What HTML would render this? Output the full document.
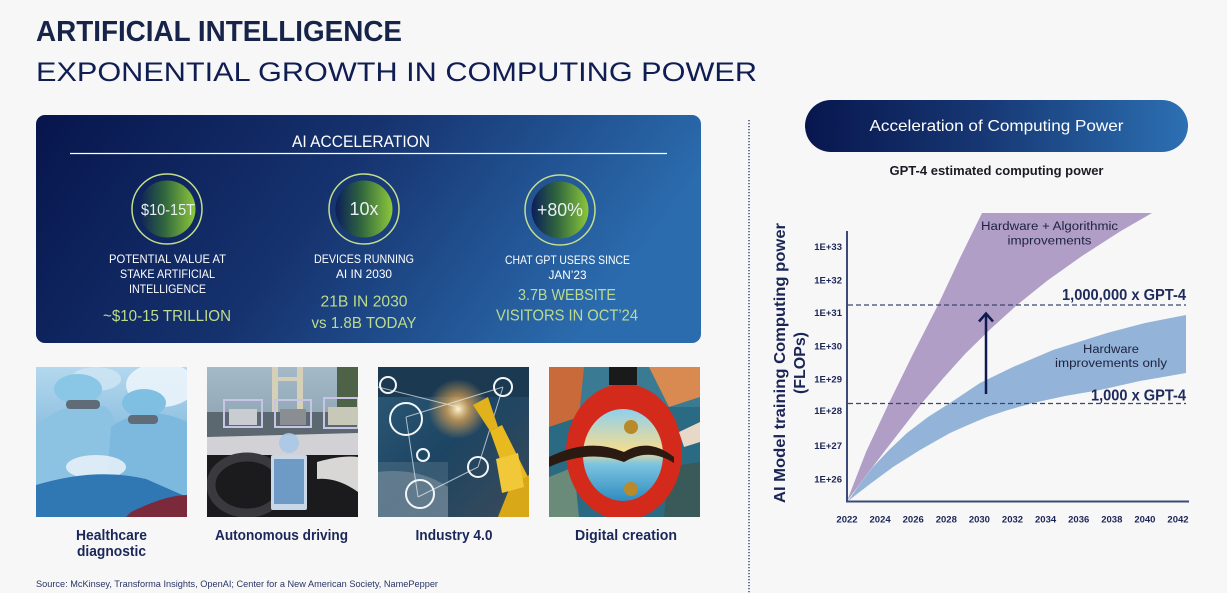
<!DOCTYPE html>
<html><head><meta charset="utf-8"><style>
html,body{margin:0;padding:0;background:#f7f7f7;overflow:hidden}
svg{display:block}
text{font-family:"Liberation Sans",sans-serif}
</style></head><body>
<svg width="1227" height="593" viewBox="0 0 1227 593" xmlns="http://www.w3.org/2000/svg">
<defs>
<linearGradient id="boxg" x1="0" y1="0" x2="1" y2="0.25">
<stop offset="0" stop-color="#07154c"/><stop offset="0.5" stop-color="#16336f"/><stop offset="1" stop-color="#2b6cae"/>
</linearGradient>
<linearGradient id="pillg" x1="0" y1="0" x2="1" y2="0">
<stop offset="0" stop-color="#08164e"/><stop offset="0.45" stop-color="#163672"/><stop offset="1" stop-color="#2c70b3"/>
</linearGradient>
<linearGradient id="cg" x1="0" y1="0" x2="1" y2="0">
<stop offset="0" stop-color="#0c1e5a"/><stop offset="0.45" stop-color="#30663e"/><stop offset="1" stop-color="#8cc83a"/>
</linearGradient>
<linearGradient id="hc" x1="0" y1="0" x2="0" y2="1">
<stop offset="0" stop-color="#b4d8ee"/><stop offset="1" stop-color="#5b9dcd"/>
</linearGradient>
<linearGradient id="au" x1="0" y1="0" x2="0" y2="1">
<stop offset="0" stop-color="#a4bac8"/><stop offset="1" stop-color="#6f8390"/>
</linearGradient>
<linearGradient id="in" x1="0" y1="0" x2="1" y2="1">
<stop offset="0" stop-color="#2c5a78"/><stop offset="0.5" stop-color="#1d4563"/><stop offset="1" stop-color="#3b4a58"/>
</linearGradient>
<radialGradient id="glow" cx="0.5" cy="0.5" r="0.5">
<stop offset="0" stop-color="#fff4d0"/><stop offset="0.4" stop-color="#e8a850" stop-opacity="0.7"/><stop offset="1" stop-color="#e8a850" stop-opacity="0"/>
</radialGradient>
<linearGradient id="dg" x1="0" y1="0" x2="0" y2="1">
<stop offset="0" stop-color="#8fd0ec"/><stop offset="0.45" stop-color="#f4dc92"/><stop offset="0.6" stop-color="#7cc4e0"/><stop offset="1" stop-color="#2f8cc0"/>
</linearGradient>
</defs>

<!-- Title -->
<text x="36" y="41" font-size="29" font-weight="bold" fill="#172449" textLength="366" lengthAdjust="spacingAndGlyphs">ARTIFICIAL INTELLIGENCE</text>
<text x="36" y="81" font-size="27" fill="#0f1d52" textLength="721" lengthAdjust="spacingAndGlyphs">EXPONENTIAL GROWTH IN COMPUTING POWER</text>

<!-- AI Acceleration box -->
<rect x="36" y="115" width="665" height="228" rx="9" fill="url(#boxg)"/>
<text x="361" y="147" font-size="17" fill="#ffffff" text-anchor="middle" textLength="138" lengthAdjust="spacingAndGlyphs">AI ACCELERATION</text>
<line x1="70" y1="153.5" x2="667" y2="153.5" stroke="#ffffff" stroke-width="1.2"/>

<circle cx="167" cy="209" r="35" fill="none" stroke="#c4df8a" stroke-width="1.5"/>
<circle cx="167" cy="209" r="28.5" fill="url(#cg)"/>
<text x="168" y="215" font-size="16" fill="#e8eef2" text-anchor="middle" textLength="54" lengthAdjust="spacingAndGlyphs">$10-15T</text>

<circle cx="364" cy="209" r="35" fill="none" stroke="#c4df8a" stroke-width="1.5"/>
<circle cx="364" cy="209" r="28.5" fill="url(#cg)"/>
<text x="364" y="215" font-size="18" fill="#e8eef2" text-anchor="middle">10x</text>

<circle cx="560" cy="210" r="35" fill="none" stroke="#c4df8a" stroke-width="1.5"/>
<circle cx="560" cy="210" r="28.5" fill="url(#cg)"/>
<text x="560" y="216" font-size="18" fill="#e8eef2" text-anchor="middle" textLength="46" lengthAdjust="spacingAndGlyphs">+80%</text>

<g fill="#ffffff" font-size="12" text-anchor="middle">
<text x="167.5" y="263" textLength="117" lengthAdjust="spacingAndGlyphs">POTENTIAL VALUE AT</text>
<text x="167.5" y="278" textLength="95" lengthAdjust="spacingAndGlyphs">STAKE ARTIFICIAL</text>
<text x="167.5" y="293" textLength="77" lengthAdjust="spacingAndGlyphs">INTELLIGENCE</text>
<text x="364" y="263" textLength="100" lengthAdjust="spacingAndGlyphs">DEVICES RUNNING</text>
<text x="364" y="278" textLength="56" lengthAdjust="spacingAndGlyphs">AI IN 2030</text>
<text x="567.5" y="264" textLength="125" lengthAdjust="spacingAndGlyphs">CHAT GPT USERS SINCE</text>
<text x="567.5" y="279" textLength="38" lengthAdjust="spacingAndGlyphs">JAN’23</text>
</g>
<g fill="#bddb8c" font-size="16" text-anchor="middle">
<text x="167" y="321" textLength="128" lengthAdjust="spacingAndGlyphs">~$10-15 TRILLION</text>
<text x="364" y="306.5" textLength="87" lengthAdjust="spacingAndGlyphs">21B IN 2030</text>
<text x="364" y="328" textLength="105" lengthAdjust="spacingAndGlyphs">vs 1.8B TODAY</text>
<text x="567" y="300" textLength="98" lengthAdjust="spacingAndGlyphs">3.7B WEBSITE</text>
<text x="567" y="320.5" textLength="142" lengthAdjust="spacingAndGlyphs">VISITORS IN OCT’24</text>
</g>

<!-- Image 1: Healthcare -->
<svg x="36" y="367" width="151" height="150" viewBox="0 0 151 150">
<rect width="151" height="150" fill="url(#hc)"/>
<ellipse cx="125" cy="18" rx="35" ry="22" fill="#eef6fb" opacity="0.85"/>
<ellipse cx="60" cy="12" rx="25" ry="12" fill="#cfe6f4" opacity="0.8"/>
<path d="M0,60 Q30,30 70,40 Q90,60 85,120 L0,130 Z" fill="#8cc2e2"/>
<path d="M75,60 Q110,35 151,55 L151,130 L70,125 Z" fill="#7db9de"/>
<ellipse cx="42" cy="22" rx="24" ry="15" fill="#8ac6e6"/>
<ellipse cx="108" cy="36" rx="22" ry="14" fill="#7fbfe2"/>
<rect x="30" y="33" width="34" height="9" rx="4" fill="#5f6c78"/>
<rect x="92" y="48" width="30" height="9" rx="4" fill="#606d79"/>
<ellipse cx="60" cy="100" rx="30" ry="12" fill="#e4f0f7" opacity="0.9"/>
<path d="M0,118 Q60,100 110,112 L151,130 L151,150 L0,150 Z" fill="#2f78b4"/>
<path d="M95,145 Q130,128 151,128 L151,150 L90,150 Z" fill="#7a2a3a"/>
</svg>

<!-- Image 2: Autonomous driving -->
<svg x="207" y="367" width="151" height="150" viewBox="0 0 151 150">
<rect width="151" height="150" fill="url(#au)"/>
<rect x="65" y="0" width="6" height="55" fill="#d6d0b8"/>
<rect x="90" y="0" width="6" height="55" fill="#d6d0b8"/>
<rect x="66" y="10" width="30" height="4" fill="#d6d0b8"/>
<rect x="0" y="45" width="151" height="25" fill="#5b6870"/>
<rect x="130" y="0" width="21" height="40" fill="#4e6248"/>
<rect x="17" y="33" width="38" height="27" fill="none" stroke="#c8c4e6" stroke-width="2"/>
<rect x="68" y="33" width="36" height="27" fill="none" stroke="#c8c4e6" stroke-width="2"/>
<rect x="117" y="31" width="34" height="30" fill="none" stroke="#c8c4e6" stroke-width="2"/>
<rect x="22" y="42" width="28" height="16" fill="#c9ccd0"/>
<rect x="73" y="42" width="26" height="16" fill="#8a8e92"/>
<rect x="121" y="40" width="30" height="18" fill="#c8c8b8"/>
<path d="M0,70 L151,66 L151,90 L0,95 Z" fill="#d2d2d6"/>
<rect x="0" y="88" width="151" height="62" fill="#1b1b1e"/>
<path d="M110,95 Q135,88 151,90 L151,125 Q130,110 110,112 Z" fill="#d9d6d6"/>
<ellipse cx="40" cy="118" rx="36" ry="28" fill="none" stroke="#3a3a3e" stroke-width="9"/>
<rect x="64" y="88" width="36" height="55" rx="2" fill="#c8d8e8"/>
<rect x="67" y="92" width="30" height="45" fill="#6d9bc6"/>
<circle cx="82" cy="76" r="10" fill="#a8c8e8" opacity="0.9"/>
</svg>

<!-- Image 3: Industry 4.0 -->
<svg x="378" y="367" width="151" height="150" viewBox="0 0 151 150">
<rect width="151" height="150" fill="url(#in)"/>
<rect x="0" y="0" width="151" height="30" fill="#1b3a52"/>
<rect x="0" y="95" width="70" height="55" fill="#4a6a80" opacity="0.6"/>
<circle cx="80" cy="42" r="30" fill="url(#glow)"/>
<path d="M0,150 L0,105 Q40,100 70,120 L70,150 Z" fill="#8a9aa5" opacity="0.5"/>
<g fill="none" stroke="#e8eef2" stroke-width="1" opacity="0.7">
<line x1="28" y1="50" x2="125" y2="20"/><line x1="28" y1="50" x2="40" y2="130"/><line x1="40" y1="130" x2="100" y2="100"/><line x1="100" y1="100" x2="125" y2="20"/><line x1="0" y1="20" x2="80" y2="40"/>
</g>
<g fill="none" stroke="#f2f6f8" stroke-width="2">
<circle cx="28" cy="52" r="16"/><circle cx="42" cy="127" r="14"/><circle cx="100" cy="100" r="10"/><circle cx="125" cy="20" r="9"/><circle cx="10" cy="18" r="8"/><circle cx="45" cy="88" r="6"/>
</g>
<path d="M95,38 L110,30 L120,60 L112,64 Z" fill="#e2b21c"/>
<path d="M112,64 L124,58 L150,110 L150,140 L132,120 Z" fill="#e8ba20"/>
<path d="M132,120 L151,108 L151,150 L120,150 Z" fill="#d8a818"/>
<path d="M118,92 L140,86 L146,120 L124,126 Z" fill="#f0c838"/>
</svg>

<!-- Image 4: Digital creation -->
<svg x="549" y="367" width="151" height="150" viewBox="0 0 151 150">
<rect width="151" height="150" fill="#2a6a82"/>
<rect x="0" y="0" width="151" height="40" fill="#3a7a92"/>
<path d="M0,0 L35,0 L30,50 L0,60 Z" fill="#c86a3a"/>
<path d="M100,0 L151,0 L151,30 L120,40 Z" fill="#d88a50"/>
<path d="M0,110 L25,100 L30,150 L0,150 Z" fill="#6a8a7a"/>
<path d="M120,100 L151,95 L151,150 L115,150 Z" fill="#3a5a5a"/>
<ellipse cx="75" cy="85" rx="58" ry="68" fill="#d42a1c"/>
<ellipse cx="74" cy="88" rx="40" ry="46" fill="url(#dg)"/>
<path d="M0,90 Q40,70 75,85 Q100,70 125,90 L125,96 Q100,80 75,95 Q40,82 0,100 Z" fill="#2a1a12"/>
<rect x="60" y="0" width="28" height="18" fill="#1a1a1a"/>
<circle cx="82" cy="60" r="7" fill="#b88a2a"/>
<circle cx="82" cy="122" r="7" fill="#b88a2a"/>
<path d="M130,65 L151,55 L151,75 L135,80 Z" fill="#e8d8c8"/>
</svg>

<!-- Captions -->
<g fill="#1a2758" font-size="14.5" font-weight="bold" text-anchor="middle">
<text x="111.5" y="540" textLength="71" lengthAdjust="spacingAndGlyphs">Healthcare</text>
<text x="111.5" y="556" textLength="69" lengthAdjust="spacingAndGlyphs">diagnostic</text>
<text x="281.5" y="540" textLength="133" lengthAdjust="spacingAndGlyphs">Autonomous driving</text>
<text x="454" y="540" textLength="77" lengthAdjust="spacingAndGlyphs">Industry 4.0</text>
<text x="626" y="540" textLength="102" lengthAdjust="spacingAndGlyphs">Digital creation</text>
</g>
<text x="36" y="587" font-size="9.5" fill="#2a3566" textLength="402" lengthAdjust="spacingAndGlyphs">Source: McKinsey, Transforma Insights, OpenAI; Center for a New American Society, NamePepper</text>

<!-- Divider -->
<line x1="749" y1="120" x2="749" y2="593" stroke="#3b4a7c" stroke-width="1.5" stroke-dasharray="1.3,1.7"/>

<!-- Pill -->
<rect x="805" y="100" width="383" height="52" rx="26" fill="url(#pillg)"/>
<text x="996.5" y="131" font-size="16" fill="#ffffff" text-anchor="middle" textLength="254" lengthAdjust="spacingAndGlyphs">Acceleration of Computing Power</text>
<text x="996.5" y="175" font-size="12.5" font-weight="bold" fill="#1b1b24" text-anchor="middle" textLength="214" lengthAdjust="spacingAndGlyphs">GPT-4 estimated computing power</text>

<!-- Chart bands -->
<path d="M847,501 L866,452 L889,403 L913,354 L938,305 L960,258 L982,213 L1152,213 L1120,231.5 L1082,256 L1047.5,280.5 L1017,305 L990,329.5 L965,354 L943,378.5 L922,403 L903,427.5 L884,452 L865.5,476.5 Z" fill="#b09ec6"/>
<path d="M848,501 L860,484 L873,467 L889,450 L907,433 L928,417 L950,403 L980,383 L1013,367 L1053,350 L1107,333 L1145,323 L1186,315 L1186,373 L1140,381 L1100,390 L1065,396 L1033,403 L1008,410 L987,417 L968,425 L950,433 L920,450 L893,467 L870,484 Z" fill="#93b4d8"/>

<!-- Dashed lines -->
<line x1="848" y1="305" x2="1186" y2="305" stroke="#3a4670" stroke-width="1.3" stroke-dasharray="5,3"/>
<line x1="848" y1="403.5" x2="1186" y2="403.5" stroke="#3a4670" stroke-width="1.3" stroke-dasharray="5,3"/>

<!-- Axes -->
<line x1="847" y1="231" x2="847" y2="502.5" stroke="#3d4a78" stroke-width="2"/>
<line x1="846" y1="501.5" x2="1189" y2="501.5" stroke="#3d4a78" stroke-width="2"/>

<!-- Arrow -->
<line x1="986" y1="394" x2="986" y2="314" stroke="#0f1b50" stroke-width="2.5"/>
<polyline points="979,321.5 986,313.5 993,321.5" fill="none" stroke="#0f1b50" stroke-width="2.5"/>

<!-- Y tick labels -->
<g fill="#1c2557" font-size="9.5" font-weight="bold" text-anchor="end">
<text x="842" y="250.2">1E+33</text>
<text x="842" y="283.5">1E+32</text>
<text x="842" y="316.2">1E+31</text>
<text x="842" y="349.5">1E+30</text>
<text x="842" y="382.5">1E+29</text>
<text x="842" y="414">1E+28</text>
<text x="842" y="449.2">1E+27</text>
<text x="842" y="482.5">1E+26</text>
</g>
<!-- X tick labels -->
<g fill="#1c2557" font-size="9.5" font-weight="bold" text-anchor="middle">
<text x="847" y="522.5">2022</text>
<text x="880.1" y="522.5">2024</text>
<text x="913.2" y="522.5">2026</text>
<text x="946.3" y="522.5">2028</text>
<text x="979.4" y="522.5">2030</text>
<text x="1012.5" y="522.5">2032</text>
<text x="1045.6" y="522.5">2034</text>
<text x="1078.7" y="522.5">2036</text>
<text x="1111.8" y="522.5">2038</text>
<text x="1144.9" y="522.5">2040</text>
<text x="1178" y="522.5">2042</text>
</g>

<!-- Y axis title -->
<text transform="translate(785,363) rotate(-90)" font-size="15.5" font-weight="bold" fill="#1a2556" text-anchor="middle" textLength="280" lengthAdjust="spacingAndGlyphs">AI Model training Computing power</text>
<text transform="translate(805,363) rotate(-90)" font-size="15.5" font-weight="bold" fill="#1a2556" text-anchor="middle" textLength="62" lengthAdjust="spacingAndGlyphs">(FLOPs)</text>

<!-- Chart annotations -->
<g fill="#1d2240" font-size="11.5" text-anchor="middle">
<text x="1049.5" y="230" textLength="137" lengthAdjust="spacingAndGlyphs">Hardware + Algorithmic</text>
<text x="1049.5" y="244.5" textLength="84" lengthAdjust="spacingAndGlyphs">improvements</text>
<text x="1111" y="353" textLength="56" lengthAdjust="spacingAndGlyphs">Hardware</text>
<text x="1111" y="367" textLength="112" lengthAdjust="spacingAndGlyphs">improvements only</text>
</g>
<g fill="#1e2a5c" font-size="15.5" font-weight="bold" text-anchor="end">
<text x="1186" y="300" textLength="124" lengthAdjust="spacingAndGlyphs">1,000,000 x GPT-4</text>
<text x="1186" y="400.5" textLength="95" lengthAdjust="spacingAndGlyphs">1,000 x GPT-4</text>
</g>
</svg>
</body></html>
